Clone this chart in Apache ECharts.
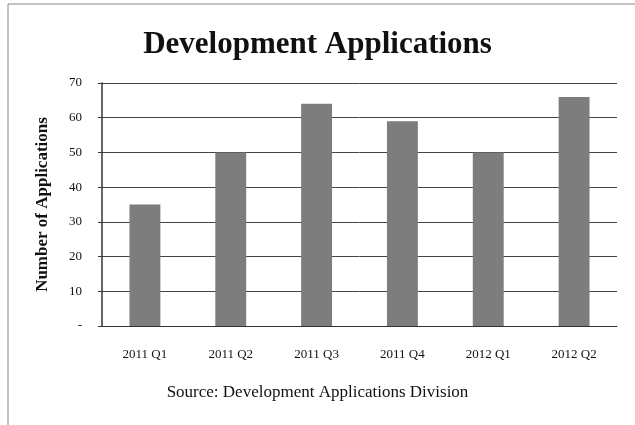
<!DOCTYPE html>
<html>
<head>
<meta charset="utf-8">
<script src="https://cdn.jsdelivr.net/npm/echarts@6/dist/echarts.min.js"></script>
<style>html,body{margin:0;padding:0;background:#fff;}#c{width:635px;height:425px;}</style>
</head>
<body>
<div id="c"></div>
<script>
var categories = ['2011 Q1', '2011 Q2', '2011 Q3', '2011 Q4', '2012 Q1', '2012 Q2'];
var applications = [35, 50, 64, 59, 50, 66];
var titleText = 'Development Applications';
var yAxisTitle = 'Number of Applications';
var sourceText = 'Source: Development Applications Division';

var chart = echarts.init(document.getElementById('c'));
var serif = '"Liberation Serif", "DejaVu Serif", serif';
chart.setOption({
  animation: false,
  backgroundColor: '#fff',
  title: {
    text: titleText, left: 'center', top: 24,
    textStyle: { fontFamily: serif, fontSize: 31, fontWeight: 'bold', color: '#111' }
  },
  graphic: [
    { type: 'polyline', shape: { points: [[8, 425], [8, 4], [635, 4]] },
      style: { fill: 'none', stroke: '#888', lineWidth: 1 } },
    { type: 'text', left: 'center', top: 384,
      style: { text: sourceText, font: '17px ' + serif, fill: '#111' } }
  ],
  grid: { left: 102, right: 18, top: 83, bottom: 99 },
  xAxis: {
    type: 'category', data: categories,
    axisLine: { show: true, lineStyle: { color: '#333', width: 1 } },
    axisTick: { show: false },
    axisLabel: { fontFamily: serif, fontSize: 13, color: '#111', margin: 22 }
  },
  yAxis: {
    type: 'value', min: 0, max: 70, interval: 10,
    name: yAxisTitle, nameLocation: 'middle', nameGap: 51, nameRotate: 90,
    nameTextStyle: { fontFamily: serif, fontSize: 17, fontWeight: 'bold', color: '#111' },
    axisLine: { show: true, lineStyle: { color: '#333', width: 1.5 } },
    axisTick: { show: true, length: 4, lineStyle: { color: '#333' } },
    axisLabel: { fontFamily: serif, fontSize: 13, color: '#111', margin: 20,
      formatter: function (v) { return v === 0 ? '-' : v; } },
    splitLine: { show: true, lineStyle: { color: '#444', width: 1 } }
  },
  series: [{
    type: 'bar', data: applications, barWidth: '36%',
    itemStyle: { color: '#7d7d7d' }
  }]
});
</script>
</body>
</html>
